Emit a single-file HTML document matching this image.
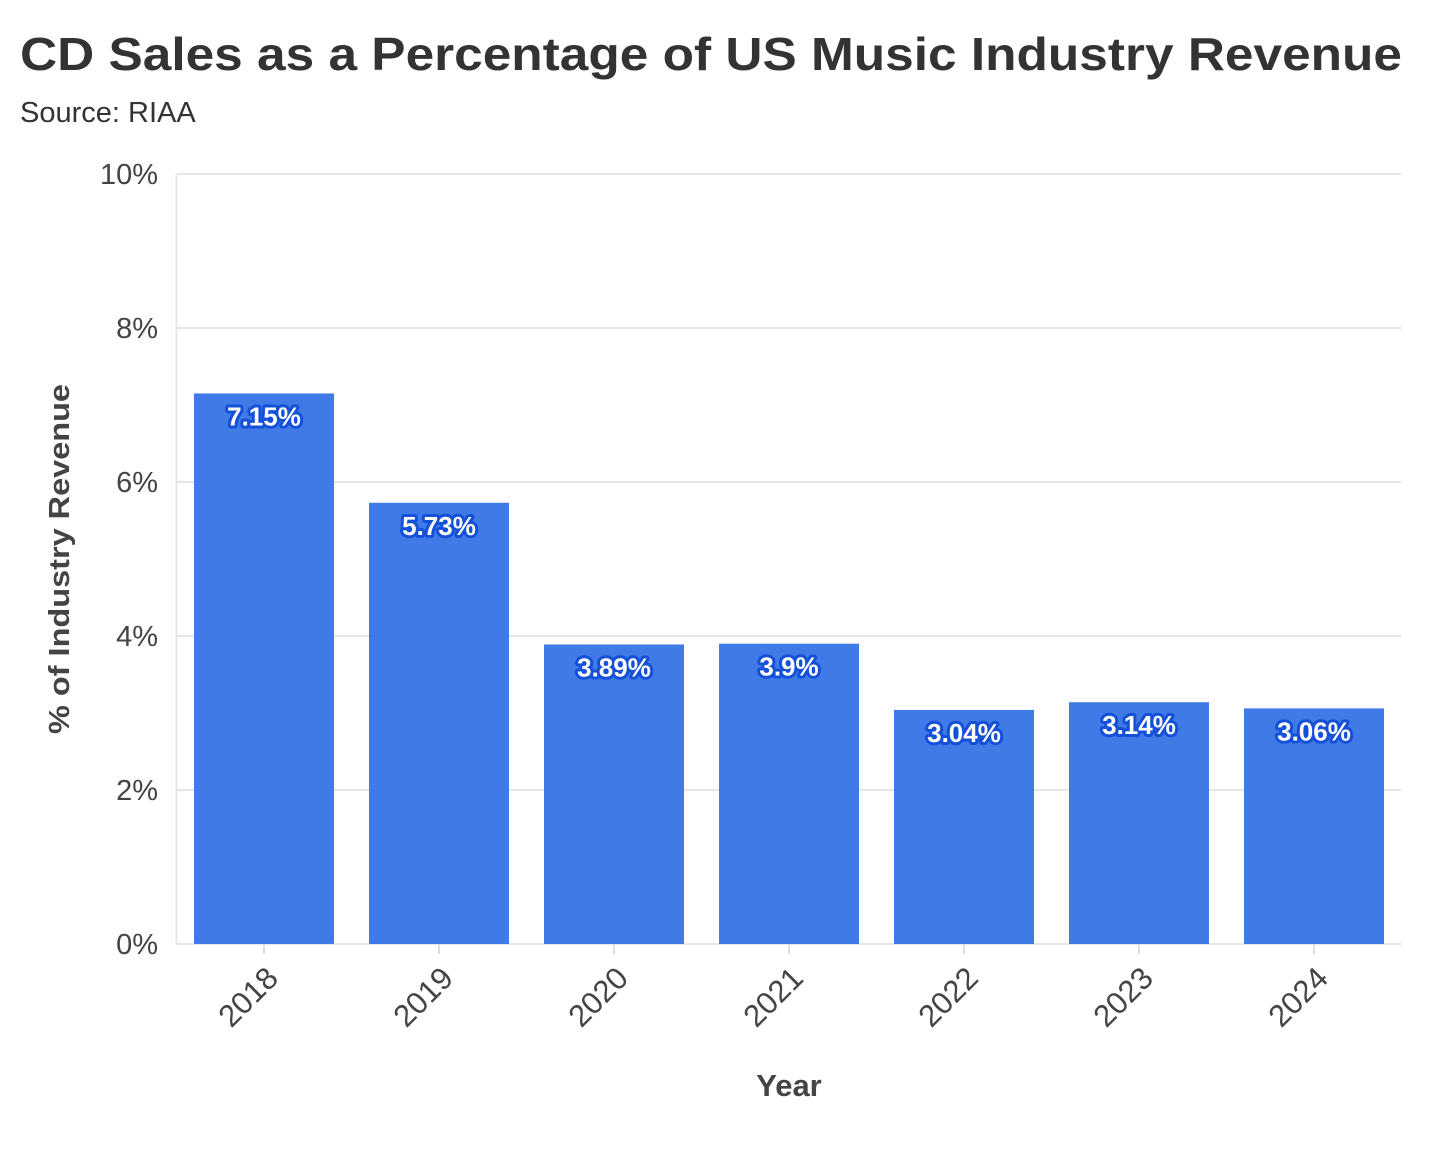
<!DOCTYPE html>
<html><head><meta charset="utf-8">
<style>
body{margin:0;background:#fff;width:1456px;height:1144px;overflow:hidden;font-family:"Liberation Sans",sans-serif;}
svg text{font-family:"Liberation Sans",sans-serif;}
</style></head>
<body>
<svg id="chart" width="1456" height="1144">
<text x="20" y="70" font-size="46" font-weight="bold" fill="#333" textLength="1382" lengthAdjust="spacingAndGlyphs">CD Sales as a Percentage of US Music Industry Revenue</text>
<text x="20" y="122" font-size="29" fill="#333">Source: RIAA</text>
<text transform="translate(69,559) rotate(-90)" text-anchor="middle" font-size="29" font-weight="bold" fill="#444" textLength="350" lengthAdjust="spacingAndGlyphs">% of Industry Revenue</text>
<text x="789" y="1096" text-anchor="middle" font-size="31" font-weight="bold" fill="#444">Year</text>
<g id="grid"></g><g id="bars"></g><g id="labels"></g>
</svg>
<script>
const categories=["2018","2019","2020","2021","2022","2023","2024"];
const values=[7.15,5.73,3.89,3.9,3.04,3.14,3.06];
const valueLabels=["7.15%","5.73%","3.89%","3.9%","3.04%","3.14%","3.06%"];
const yTicks=[0,2,4,6,8,10];
const yTickLabels=["0%","2%","4%","6%","8%","10%"];
const NS="http://www.w3.org/2000/svg";
const x0=176.5,x1=1401.5,y0=944,yTop=174,yMax=10;
const band=(x1-x0)/categories.length,pad=0.2;
const y=v=>y0-(v/yMax)*(y0-yTop);
const xc=i=>x0+band*(i+0.5);
function mk(t,a,p){const e=document.createElementNS(NS,t);for(const k in a)e.setAttribute(k,a[k]);p.appendChild(e);return e;}
const grid=document.getElementById('grid'),bars=document.getElementById('bars'),labels=document.getElementById('labels');
yTicks.forEach((t,i)=>{
  const l=mk('line',{x1:x0,x2:x1,y1:y(t),y2:y(t),stroke:'#e6e6e6','stroke-width':2},grid);
  
  
  const tx=mk('text',{x:158,y:y(t)+10,'text-anchor':'end','font-size':29,fill:'#444'},grid);
  tx.textContent=yTickLabels[i];
  
  
});
const ax=mk('line',{x1:x0,x2:x0,y1:yTop,y2:y0,stroke:'#e6e6e6','stroke-width':2},grid);


categories.forEach((c,i)=>{
  const w=band*(1-pad);
  const r=mk('rect',{x:xc(i)-w/2,y:y(values[i]),width:w,height:y0-y(values[i]),fill:'#3f7ae6'},bars);
  
  
  const tk=mk('line',{x1:xc(i),x2:xc(i),y1:y0,y2:y0+10,stroke:'#ddd','stroke-width':2},grid);
  
  
  const t=mk('text',{transform:`translate(${xc(i)+16},${y0+36}) rotate(-45)`,'text-anchor':'end','font-size':31,fill:'#444'},labels);
  t.textContent=c;
  
  
  const v=mk('text',{x:xc(i),y:y(values[i])+32,'text-anchor':'middle','font-size':26,'font-weight':'bold',fill:'#fff',stroke:'#1450d8','stroke-width':6,'paint-order':'stroke','stroke-linejoin':'round'},labels);
  v.textContent=valueLabels[i];
  
  
});
</script>
</body></html>
